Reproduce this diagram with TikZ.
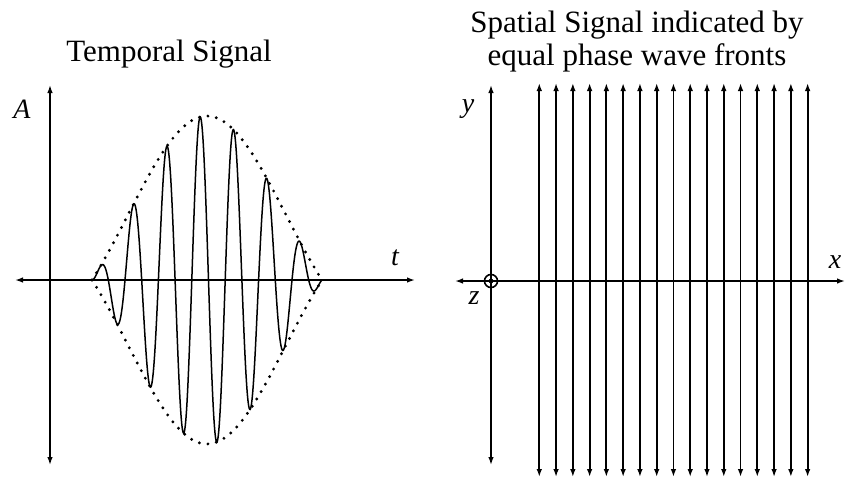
\documentclass[tikz,border=0pt]{standalone}
\usepackage{fontspec}
\setmainfont{Liberation Serif}
\usetikzlibrary{arrows.meta}

\begin{document}
\begin{tikzpicture}[
  x=0.5pt, y=-0.5pt,
  declare function={pulse(\q)=sin((\q-92)/230*180)*(0.7+0.3*sin((\q-92)/230*180));},
  axis/.style={line width=0.9pt,
               {Latex[length=4pt,width=2.8pt]}-{Latex[length=4pt,width=2.8pt]}},
  title/.style={anchor=base, inner sep=0pt, font=\fontsize{15.5}{16.5}\selectfont},
  var/.style={anchor=base, inner sep=0pt, font=\fontsize{14}{16}\selectfont\itshape},
  envelope/.style={line width=1.6pt, line cap=round, dash pattern=on 0pt off 4.3pt},
  signal/.style={line width=0.75pt}
]
\useasboundingbox (0,0) rectangle (847,478);

% temporal signal
\coordinate (A-top) at (50,85);
\coordinate (A-bot) at (50,465);
\coordinate (t-left) at (15,280);
\coordinate (t-right) at (415,280);
\draw[axis] (A-top) -- (A-bot);
\draw[axis] (t-left) -- (t-right);
\node[title] (temporal) at (169,61) {Temporal Signal};
\node[var] (A) at (22,118) {A};
\node[var] (t) at (395,265) {t};
\draw[envelope] plot[variable=\u, domain=92:322, samples=80] (\u, {280-164*pulse(\u)});
\draw[envelope] plot[variable=\u, domain=92:322, samples=80] (\u, {280+164*pulse(\u)});
\draw[signal] plot[variable=\u, domain=92:322, samples=500]
  (\u, {280-164*pulse(\u)*sin((\u-125)/33.4*360)});

% spatial signal
\coordinate (y-top) at (491,85);
\coordinate (y-bot) at (491,465);
\coordinate (x-left) at (455,281);
\coordinate (x-right) at (845,281);
\draw[axis] (y-top) -- (y-bot);
\draw[axis] (x-left) -- (x-right);
\node[title] (spatial) at (637,32) {Spatial Signal indicated by};
\node[title] (fronts) at (637,65) {equal phase wave fronts};
\node[var] (y) at (468,112) {y};
\node[var] (x) at (835,268) {x};
\node[var] (z) at (474,304) {z};
\node[circle, draw, line width=0.8pt, minimum size=6.5pt, inner sep=0pt] (O) at (491,281) {};
\fill (O.center) circle (1.2pt);
\foreach \i in {0,...,16} {
  \coordinate (f\i-top) at (539.3+16.77*\i,83);
  \coordinate (f\i-bot) at (539.3+16.77*\i,477);
  \draw[axis] (f\i-top) -- (f\i-bot);
}
\end{tikzpicture}
\end{document}
